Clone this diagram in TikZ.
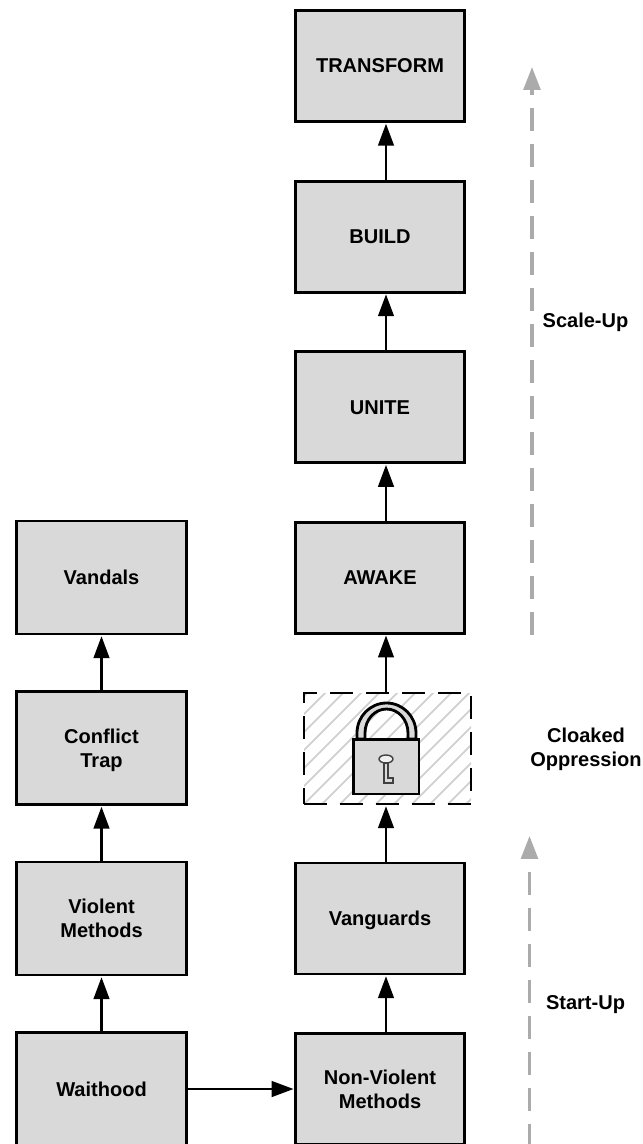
\documentclass[tikz,border=0pt]{standalone}
\usepackage{fontspec}
\setmainfont{Liberation Sans}
\usepackage{xcolor}
\usetikzlibrary{arrows.meta,positioning,calc}
\definecolor{boxgray}{HTML}{D9D9D9}
\definecolor{hatchgray}{HTML}{D0D0D0}
\definecolor{phasegray}{HTML}{ABABAB}
\tikzset{
  stagebox/.style={draw=black,fill=boxgray,line width=1.6pt,minimum width=168.5*0.02cm,
                   minimum height=111*0.02cm,inner sep=0pt,outer sep=0pt,align=center,
                   text depth=0pt,
                   font=\fontsize{11.4}{13.6}\selectfont\bfseries},
  sidebox/.style={stagebox,minimum width=170.5*0.02cm,minimum height=113*0.02cm},
  hidebox/.style={draw=black,line width=1.6pt,dash pattern=on 13pt off 7.5pt,
                  minimum width=167*0.02cm,minimum height=111*0.02cm,inner sep=0pt,outer sep=0pt,
                  path picture={
                    \foreach \i in {-8,...,12}
                      \draw[hatchgray,line width=1pt,solid]
                        ($(path picture bounding box.south west)+(\i*18,0)$) -- ++(120,-120);
                  }},
  steparr/.style={-{Triangle[length=12.5pt,width=8.8pt]},line width=1.6pt,draw=black,shorten >=1.2pt},
  phasearr/.style={-{Triangle[length=13pt,width=9.5pt]},line width=1.9pt,draw=phasegray,
                   dash pattern=on 13.1pt off 7.4pt},
  phaselabel/.style={align=center,font=\fontsize{11.4}{13.6}\selectfont\bfseries},
  lockpart/.style={draw=black,line width=1.6pt,fill=boxgray}
}
\begin{document}
\begin{tikzpicture}[x=0.02cm,y=-0.02cm]
  \path[use as bounding box] (0,0) rectangle (643,1144);
  \clip (0,0) rectangle (643,1144);
  % middle column
  \node[stagebox] (transform) at (380,66) {TRANSFORM};
  \node[stagebox,below=59.6*0.02cm of transform] (build) {BUILD};
  \node[stagebox,below=59.6*0.02cm of build] (unite) {UNITE};
  \node[stagebox,below=59.6*0.02cm of unite] (awake) {AWAKE};
  \node[hidebox] (cloak) at (387.5,748.5) {};
  \node[stagebox] (vanguards) at (380,918.5) {Vanguards};
  \node[stagebox,below=59.6*0.02cm of vanguards] (nonviolent) {Non-Violent\\Methods};
  % left column
  \node[sidebox] (vandals) at (101.5,577.5) {Vandals};
  \node[sidebox,below=57.5*0.02cm of vandals] (conflict) {Conflict\\Trap};
  \node[sidebox,below=57.5*0.02cm of conflict] (violent) {Violent\\Methods};
  \node[sidebox,below=57.5*0.02cm of violent] (waithood) {Waithood};
  % the lock
  \draw[lockpart] (357,739) -- (357,733) arc[start angle=180,end angle=360,x radius=29.5,y radius=30]
    -- (416,739) -- (408,739) -- (408,733)
    arc[start angle=360,end angle=180,x radius=21.5,y radius=24] -- (365,739) -- cycle;
  \draw[lockpart] (353.5,739.5) rectangle (419,794);
  \draw[fill=white!60!boxgray,draw=black!75,line width=0.8pt] (386,759) ellipse[x radius=7,y radius=4];
  \draw[fill=boxgray,draw=black!75,line width=0.8pt] (384,763) -- (384,783) -- (393,783)
    -- (393,778) -- (388,778) -- (388,763) -- cycle;
  % connectors
  \coordinate (spine) at (386,0);
  \draw[steparr] (build.north -| spine) -- (transform.south -| spine);
  \draw[steparr] (unite.north -| spine) -- (build.south -| spine);
  \draw[steparr] (awake.north -| spine) -- (unite.south -| spine);
  \draw[steparr] (cloak.north -| spine) -- (awake.south -| spine);
  \draw[steparr] (vanguards.north -| spine) -- (cloak.south -| spine);
  \draw[steparr] (nonviolent.north -| spine) -- (vanguards.south -| spine);
  \draw[steparr] (conflict) -- (vandals);
  \draw[steparr] (violent) -- (conflict);
  \draw[steparr] (waithood) -- (violent);
  \draw[steparr] (waithood.east) -- (waithood.east -| nonviolent.west);
  % phases
  \coordinate (scalefoot) at (532,635);
  \coordinate (scaletip) at (532,67);
  \coordinate (startfoot) at (529.5,1147);
  \coordinate (starttip) at (529.5,836);
  \draw[phasearr] (scalefoot) -- (scaletip);
  \draw[phasearr] (startfoot) -- (starttip);
  \node[phaselabel] (scaleup) at (585.5,322) {Scale-Up};
  \node[phaselabel] (cloaked) at (586,749) {Cloaked\\Oppression};
  \node[phaselabel] (startup) at (585.5,1005) {Start-Up};
\end{tikzpicture}
\end{document}
